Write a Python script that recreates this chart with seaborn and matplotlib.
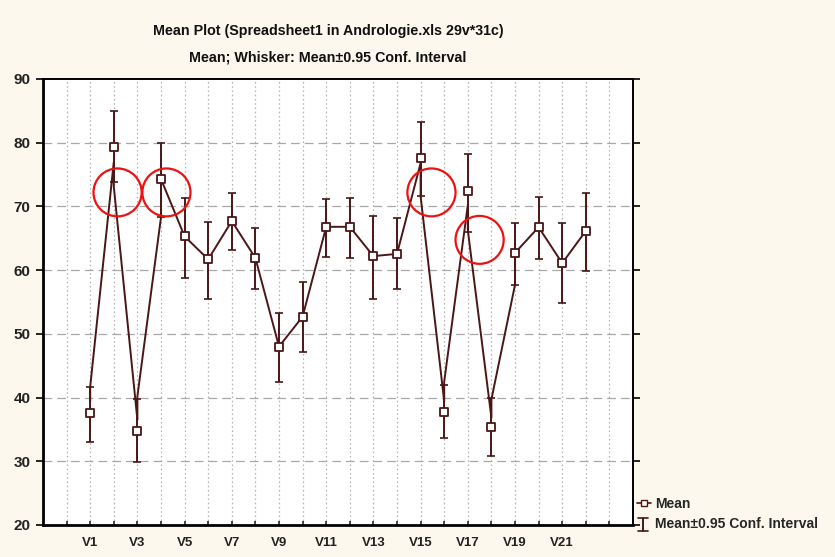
import matplotlib
matplotlib.use("Agg")
import matplotlib.pyplot as plt
from matplotlib.patches import Ellipse
from matplotlib.lines import Line2D
from matplotlib.legend_handler import HandlerBase
import seaborn as sns
import pandas as pd

# ---- data -------------------------------------------------------------
variables = ["V1", "V2", "V3", "V4", "V5", "V6", "V7", "V8", "V9", "V10", "V11",
             "V12", "V13", "V14", "V15", "V16", "V17", "V18", "V19", "V20", "V21", "V22"]
positions = [1, 2, 3, 4, 5, 6, 7, 8, 9, 10, 11, 12, 13, 14, 15, 16, 17, 18, 19, 20, 21, 22]
means = [37.6, 79.4, 34.8, 74.3, 65.3, 61.7, 67.7, 61.9, 48.0, 52.7, 66.8,
         66.8, 62.2, 62.55, 77.65, 37.8, 72.4, 35.4, 62.7, 66.75, 61.1, 66.15]
ci_low = [33.1, 73.9, 29.85, 68.3, 58.8, 55.5, 63.1, 57.0, 42.5, 47.1, 62.1,
          61.9, 55.5, 57.0, 71.6, 33.7, 66.05, 30.8, 57.7, 61.8, 54.8, 59.8]
ci_high = [41.7, 84.9, 39.75, 79.9, 71.4, 67.5, 72.1, 66.6, 53.3, 58.1, 71.1,
           71.4, 68.5, 68.2, 83.2, 42.0, 78.3, 40.0, 67.4, 71.5, 67.4, 72.1]
# connecting line as drawn: value where the line arrives / leaves each variable
line_in = [39.4, 77.0, 36.5, 68.3, 65.3, 61.7, 67.7, 61.9, 48.0, 52.7, 66.8,
           66.8, 62.2, 62.55, 76.8, 39.4, 70.2, 36.85, 57.7, 66.75, 61.1, 66.15]
line_out = [41.7, 73.1, 40.2, 74.3, 65.3, 61.7, 67.7, 61.9, 48.0, 52.7, 66.8,
            66.8, 62.2, 62.55, 71.6, 42.5, 66.3, 39.7, 62.7, 66.75, 61.1, 66.15]
tick_positions = [1, 3, 5, 7, 9, 11, 13, 15, 17, 19, 21]
tick_labels = ["V1", "V3", "V5", "V7", "V9", "V11", "V13", "V15", "V17", "V19", "V21"]
grid_positions = list(range(0, 24))
y_ticks = [20, 30, 40, 50, 60, 70, 80, 90]
# red highlight circles (annotation centres, data units)
circle_x = [2.16, 4.23, 15.46, 17.5]
circle_y = [72.2, 72.2, 72.2, 64.75]

title1 = "Mean Plot (Spreadsheet1 in Andrologie.xls 29v*31c)"
title2 = "Mean; Whisker: Mean±0.95 Conf. Interval"
legend_labels = ["Mean", "Mean±0.95 Conf. Interval"]

# ---- style ------------------------------------------------------------
sns.set_style("white")
plt.rcParams["font.family"] = ["Liberation Sans", "DejaVu Sans"]
plt.rcParams["font.weight"] = "bold"

LINE = "#4a1616"
BG = "#fcf8ee"

fig = plt.figure(figsize=(8.35, 5.57), dpi=100, facecolor=BG)
ax = fig.add_axes([43 / 835, 1 - 525 / 557, (633 - 43) / 835, (525 - 79) / 557])
ax.set_facecolor("white")

# path data
px, py = [], []
for p, a, b in zip(positions, line_in, line_out):
    px += [p, p]
    py += [a, b]
path_df = pd.DataFrame({"x": px, "y": py})
mean_df = pd.DataFrame({"x": positions, "mean": means, "lo": ci_low, "hi": ci_high})

# grid
for g in grid_positions:
    ax.axvline(g, color="#b0b0b0", lw=0.9, ls=(0, (1.2, 2.2)), zorder=0)
for yv in y_ticks[1:-1]:
    ax.axhline(yv, color="#a8a8a8", lw=0.9, ls=(0, (7, 4)), zorder=0)

# whiskers
ax.errorbar(mean_df["x"], mean_df["mean"],
            yerr=[mean_df["mean"] - mean_df["lo"], mean_df["hi"] - mean_df["mean"]],
            fmt="none", ecolor=LINE, elinewidth=1.4, capsize=3, capthick=1.2, zorder=2)

# connecting line
sns.lineplot(data=path_df, x="x", y="y", sort=False, estimator=None,
             color=LINE, lw=1.4, ax=ax, zorder=3)

# mean markers
sns.scatterplot(data=mean_df, x="x", y="mean", marker="s", s=30,
                facecolor="white", edgecolor=LINE, linewidth=1.3, ax=ax, zorder=4)

# red circles
for cx, cy in zip(circle_x, circle_y):
    ax.add_patch(Ellipse((cx, cy), width=2.04, height=7.52, fill=False,
                         edgecolor="#ee1111", lw=1.6, zorder=5))

ax.set_xlim(-1, 24)
ax.set_ylim(20, 90)
ax.set_xticks(tick_positions)
ax.set_xticklabels(tick_labels)
ax.set_xticks(grid_positions, minor=True)
ax.set_yticks(y_ticks)
ax.set_yticklabels([str(v) for v in y_ticks])
ax.set_xlabel("")
ax.set_ylabel("")
ax.tick_params(axis="y", which="both", left=True, right=True, direction="out",
               length=5, width=1.2, labelsize=11, pad=4, colors="black")
ax.tick_params(axis="x", which="both", bottom=True, direction="in",
               length=3, width=1.2, labelsize=9.5, pad=9)
for lab in ax.get_xticklabels() + ax.get_yticklabels():
    lab.set_fontweight("bold")
    lab.set_color("#222222")
for side in ["left", "bottom"]:
    ax.spines[side].set_linewidth(2.0)
    ax.spines[side].set_color("black")
for side in ["right", "top"]:
    ax.spines[side].set_linewidth(1.4)
    ax.spines[side].set_color("black")
    ax.spines[side].set_visible(True)

fig.text(328 / 835, 1 - 31 / 557, title1, ha="center", va="center",
         fontsize=10.3, fontweight="bold", color="#111111")
fig.text(328 / 835, 1 - 57 / 557, title2, ha="center", va="center",
         fontsize=10.3, fontweight="bold", color="#111111")


class IBeamHandler(HandlerBase):
    def create_artists(self, legend, orig_handle, xdescent, ydescent,
                       width, height, fontsize, trans):
        xc = width * 0.45 - xdescent
        y0 = -ydescent - height * 0.35
        y1 = -ydescent + height * 1.05
        hw = width * 0.35
        arts = [Line2D([xc, xc], [y0, y1], color=LINE, lw=1.4),
                Line2D([xc - hw, xc + hw], [y0, y0], color=LINE, lw=1.2),
                Line2D([xc - hw, xc + hw], [y1, y1], color=LINE, lw=1.2)]
        for a in arts:
            a.set_transform(trans)
        return arts


h1 = Line2D([], [], color=LINE, lw=1.2, marker="s", markersize=5,
            markerfacecolor="white", markeredgecolor=LINE)
h2 = Line2D([], [], color=LINE)
fig.legend([h1, h2], legend_labels, loc="upper left",
           bbox_to_anchor=(634 / 835, 1 - 494 / 557), frameon=False,
           fontsize=10, handlelength=1.0, handletextpad=0.3, labelspacing=0.45,
           borderpad=0.2, borderaxespad=0.0, handler_map={h2: IBeamHandler()})

fig.savefig("out.png", dpi=100, facecolor=BG)
